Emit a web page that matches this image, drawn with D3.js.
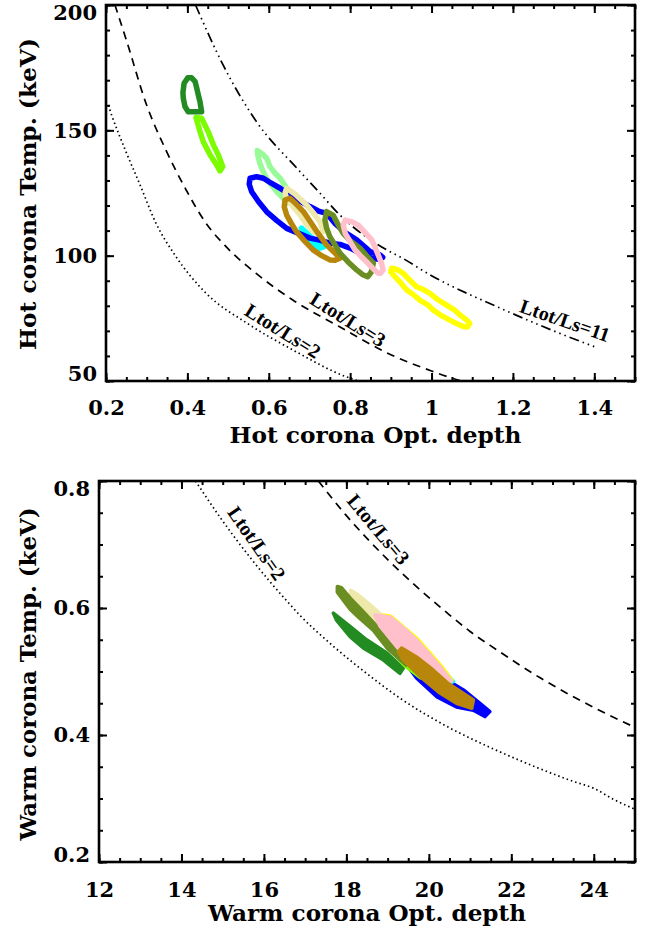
<!DOCTYPE html>
<html><head><meta charset="utf-8">
<script src="https://cdn.jsdelivr.net/npm/d3@7"></script>
<style>body{margin:0;background:#fff}svg{display:block}</style>
</head><body>
<script>
// ---------------- DATA ----------------
// Top panel: hot corona (optical depth, temperature keV)
const hotXTicks = [0.2,0.4,0.6,0.8,1.0,1.2,1.4];
const hotXTickLabels = ["0.2","0.4","0.6","0.8","1","1.2","1.4"];
const hotYTicks = [50,100,150,200];
const hotYTickLabels = ["50","100","150","200"];

const hotLs2 = [[0.2,161.5],[0.206,159.7],[0.214,156],[0.249,141.5],[0.282,128.9],[0.323,112.9],[0.372,99.6],[0.446,85],[0.547,73],[0.659,62.4],[0.79,51.7],[0.83,49.5]];
const hotLs3 = [[0.222,200],[0.25,186],[0.3,160],[0.347,142.2],[0.397,126.2],[0.446,112.9],[0.495,103.6],[0.569,92.9],[0.659,82.3],[0.773,71.7],[0.9,60.5],[1.0,54],[1.07,50.2],[1.1,49]];
const hotLs11 = [[0.42,200],[0.488,176],[0.57,153.4],[0.669,134.9],[0.726,124.9],[0.767,117.5],[0.89,102.3],[0.922,99.6],[1.0,92],[1.16,79.7],[1.3,70],[1.4,63.7]];

const hotForestGreen = [[0.401,171],[0.392,168.8],[0.389,165],[0.390,162.8],[0.394,159.5],[0.402,157.4],[0.42,157.4],[0.435,157.4],[0.431,161.4],[0.427,164],[0.423,166.8],[0.419,169.4],[0.410,171]];
const hotLawnGreen = [[0.421,155.1],[0.431,149.5],[0.439,145.5],[0.456,140.2],[0.472,136.2],[0.480,133.8],[0.487,135.5],[0.476,140.2],[0.464,144.2],[0.451,149.5],[0.435,154.8]];
const hotLightGreen = [[0.572,142],[0.585,140.5],[0.595,138.8],[0.603,135.5],[0.615,133],[0.628,130.9],[0.644,126.9],[0.655,123],[0.645,121],[0.632,123.5],[0.62,125.5],[0.605,128.5],[0.595,130.9],[0.585,134],[0.578,137],[0.573,140]];
const hotCyan = [[0.68,111],[0.70,108],[0.72,105],[0.735,103.5],[0.725,103],[0.705,105],[0.69,108]];
const hotWheat = [[0.644,126.9],[0.665,124.5],[0.693,120.2],[0.71,117],[0.726,113.6],[0.734,109.6],[0.722,109],[0.709,109.6],[0.69,113],[0.677,116.2],[0.66,119.5],[0.644,122.9],[0.64,125]];
const hotBlue = [[0.554,130.9],[0.570,131.5],[0.587,130.9],[0.605,129],[0.628,126.9],[0.652,124.2],[0.680,121.5],[0.701,119.6],[0.722,117.8],[0.742,116.9],[0.762,113],[0.790,109],[0.816,106.3],[0.849,101.6],[0.873,100.3],[0.880,99.3],[0.870,98.6],[0.853,99],[0.825,101],[0.800,103],[0.775,104.5],[0.750,105],[0.725,106.2],[0.701,107],[0.672,109],[0.644,110.9],[0.620,114],[0.595,117.5],[0.575,121.5],[0.558,125.5],[0.552,128.5]];
const hotGoldenrod = [[0.640,122.2],[0.652,122.9],[0.668,120.5],[0.685,117.6],[0.70,114],[0.718,109.6],[0.742,104.3],[0.76,101.5],[0.775,99],[0.763,98.2],[0.750,98.3],[0.73,100],[0.709,102.3],[0.69,105.5],[0.668,109.6],[0.655,113],[0.644,116.2],[0.638,119.5]];
const hotOlive = [[0.742,117.6],[0.758,116.2],[0.77,112.5],[0.783,108.9],[0.80,106],[0.824,103],[0.84,100],[0.857,97],[0.852,93.5],[0.843,91.6],[0.83,92.5],[0.816,94.3],[0.795,97.5],[0.775,101],[0.762,104.5],[0.750,107.6],[0.742,111],[0.738,114.2]];
const hotPink = [[0.788,114.2],[0.805,113.5],[0.820,112.2],[0.838,109],[0.853,106.3],[0.862,103],[0.869,100.3],[0.877,97],[0.881,94.3],[0.875,93],[0.869,93],[0.855,95],[0.840,97.6],[0.825,100],[0.812,102.3],[0.80,105.5],[0.788,108.9],[0.783,112.2]];
const hotYellow = [[0.902,95],[0.915,94.5],[0.930,93],[0.945,90.5],[0.963,87.6],[0.98,86.5],[0.996,85],[1.015,82.5],[1.037,80.3],[1.055,78.5],[1.070,76.3],[1.085,74.5],[1.094,73],[1.088,71.5],[1.078,71.7],[1.06,73],[1.037,75],[1.02,76.5],[1.004,78.3],[0.99,80.5],[0.971,82.3],[0.955,84.5],[0.939,86.3],[0.925,89],[0.910,91.6],[0.9,93.5]];

// Bottom panel: warm corona
const warmXTicks = [12,14,16,18,20,22,24];
const warmXTickLabels = ["12","14","16","18","20","22","24"];
const warmYTicks = [0.2,0.4,0.6,0.8];
const warmYTickLabels = ["0.2","0.4","0.6","0.8"];

const warmLs2 = [[14.34,0.8],[15,0.737],[15.66,0.68],[16.57,0.61],[16.88,0.588],[17.68,0.54],[18.49,0.497],[19.3,0.458],[20.51,0.411],[21.5,0.380],[22.5,0.352],[23.5,0.327],[24,0.316],[24.5,0.298],[25,0.283]];
const warmLs3 = [[17.32,0.8],[17.98,0.747],[18.99,0.677],[20.43,0.593],[21.0,0.563],[21.65,0.534],[22.7,0.49],[24.04,0.442],[25,0.412]];

const warmForestGreen = [[17.683,0.592],[18.088,0.571],[18.49,0.550],[18.98,0.529],[19.38,0.505],[19.30,0.497],[18.90,0.518],[18.41,0.537],[18.09,0.555],[17.76,0.581]];
const warmBlue = [[19.4,0.535],[19.9,0.51],[20.51,0.484],[20.84,0.471],[21.24,0.450],[21.48,0.437],[21.36,0.429],[21.08,0.439],[20.67,0.444],[20.2,0.46],[19.7,0.49],[19.35,0.52]];
const warmLawnGreen = [[19.25,0.535],[19.5,0.525],[19.9,0.50],[19.8,0.49],[19.4,0.51],[19.2,0.525]];
const warmCyan = [[18.75,0.588],[19.1,0.584],[19.75,0.548],[20.3,0.507],[20.6,0.484],[20.4,0.48],[19.6,0.515],[19.2,0.54],[18.85,0.57]];
const warmYellow = [[18.78,0.590],[19.08,0.587],[19.73,0.551],[20.3,0.509],[20.56,0.486],[20.35,0.481],[19.62,0.513],[19.22,0.539],[18.82,0.571]];
const warmWheat = [[18.1,0.628],[18.3,0.62],[18.7,0.598],[19.0,0.58],[19.3,0.555],[19.5,0.53],[19.2,0.54],[18.9,0.56],[18.6,0.58],[18.3,0.60],[18.1,0.615]];
const warmOlive = [[17.78,0.634],[17.88,0.632],[18.1,0.615],[18.37,0.597],[18.8,0.567],[19.3,0.535],[19.55,0.52],[19.45,0.51],[19.0,0.536],[18.65,0.565],[18.3,0.585],[18.09,0.598],[17.78,0.625]];
const warmPink = [[18.69,0.589],[19.06,0.586],[19.4,0.568],[19.70,0.550],[20.0,0.528],[20.27,0.508],[20.55,0.484],[20.35,0.481],[20.0,0.497],[19.62,0.513],[19.22,0.539],[18.82,0.571]];
const warmGoldenrod = [[19.34,0.537],[19.70,0.523],[20.11,0.502],[20.47,0.481],[21.08,0.455],[21.04,0.442],[20.67,0.450],[20.27,0.466],[19.79,0.492],[19.38,0.518],[19.26,0.531]];

// label anchors (data coords) and texts
const hotLabels = [["Ltot/Ls=2",0.635,70.0,32],["Ltot/Ls=3",0.795,74.6,32],["Ltot/Ls=11",1.328,74.2,19]];
const warmLabels = [["Ltot/Ls=2",15.83,0.702,55],["Ltot/Ls=3",18.78,0.724,50]];

// ---------------- DRAW ----------------
const W = 653, H = 936;
const svg = d3.select("body").append("svg").attr("width", W).attr("height", H);
svg.append("rect").attr("width", W).attr("height", H).attr("fill", "#fff");

const TICKFONT = "'DejaVu Serif', serif";

function panel(o) {
  const x = d3.scaleLinear().domain(o.xDomain).range([o.left, o.right]);
  const y = d3.scaleLinear().domain(o.yDomain).range([o.bottom, o.top]);
  const g = svg.append("g");
  const cid = "clip" + o.id;
  svg.append("clipPath").attr("id", cid).append("rect")
    .attr("x", o.left).attr("y", o.top).attr("width", o.right - o.left).attr("height", o.bottom - o.top);
  const plot = g.append("g").attr("clip-path", `url(#${cid})`);

  const line = d3.line().x(d => x(d[0])).y(d => y(d[1])).curve(d3.curveMonotoneX);
  o.curves.forEach(c => {
    plot.append("path").attr("d", line(c.data)).attr("fill", "none")
      .attr("stroke", "#000").attr("stroke-width", 1.7).attr("stroke-dasharray", c.dash);
  });
  const closed = d3.line().x(d => x(d[0])).y(d => y(d[1])).curve(d3.curveLinearClosed);
  o.contours.forEach(c => {
    plot.append("path").attr("d", closed(c.data))
      .attr("fill", o.filled ? c.color : "none")
      .attr("stroke", c.color).attr("stroke-width", o.sw)
      .attr("stroke-linejoin", "round");
  });

  // labels
  o.labels.forEach(l => {
    g.append("text").attr("transform", `translate(${x(l[1])},${y(l[2])}) rotate(${l[3]})`)
      .attr("text-anchor", "middle").attr("dominant-baseline", "central")
      .attr("font-family", "'Liberation Serif', serif").attr("font-weight", "bold")
      .attr("font-size", 20).attr("fill", "#000").text(l[0]);
  });

  // axes
  const styleAxis = sel => {
    sel.select(".domain").remove();
    sel.selectAll("line").attr("stroke", "#000").attr("stroke-width", 2);
    sel.selectAll("text").attr("font-family", TICKFONT).attr("font-weight", "bold")
      .attr("font-size", 21).attr("fill", "#000");
  };
  const xMinor = d3.range(o.xDomain[0], o.xDomain[1] + 1e-9, o.xMinorStep);
  const yMinor = d3.range(o.yDomain[0], o.yDomain[1] + 1e-9, o.yMinorStep);

  g.append("g").attr("transform", `translate(0,${o.bottom})`)
    .call(d3.axisBottom(x).tickValues(xMinor).tickSize(-4).tickSizeOuter(0).tickFormat("")).call(styleAxis);
  g.append("g").attr("transform", `translate(0,${o.top})`)
    .call(d3.axisTop(x).tickValues(xMinor).tickSize(-4).tickSizeOuter(0).tickFormat("")).call(styleAxis);
  g.append("g").attr("transform", `translate(${o.left},0)`)
    .call(d3.axisLeft(y).tickValues(yMinor).tickSize(-4).tickSizeOuter(0).tickFormat("")).call(styleAxis);
  g.append("g").attr("transform", `translate(${o.right},0)`)
    .call(d3.axisRight(y).tickValues(yMinor).tickSize(-4).tickSizeOuter(0).tickFormat("")).call(styleAxis);

  g.append("g").attr("transform", `translate(0,${o.bottom})`)
    .call(d3.axisBottom(x).tickValues(o.xTicks).tickSize(-8).tickSizeOuter(0).tickPadding(o.xPad)
      .tickFormat((d, i) => o.xLabels[i])).call(styleAxis);
  g.append("g").attr("transform", `translate(0,${o.top})`)
    .call(d3.axisTop(x).tickValues(o.xTicks).tickSize(-8).tickSizeOuter(0).tickFormat("")).call(styleAxis);
  const ly = g.append("g").attr("transform", `translate(${o.left},0)`)
    .call(d3.axisLeft(y).tickValues(o.yTicks).tickSize(-8).tickSizeOuter(0).tickPadding(9)
      .tickFormat((d, i) => o.yLabels[i])).call(styleAxis);
  g.append("g").attr("transform", `translate(${o.right},0)`)
    .call(d3.axisRight(y).tickValues(o.yTicks).tickSize(-8).tickSizeOuter(0).tickFormat("")).call(styleAxis);
  // IDL keeps the end labels inside the axis span
  const yt = ly.selectAll(".tick text");
  yt.filter((d, i) => i === 0).attr("y", -7);
  yt.filter((d, i, n) => i === n.length - 1).attr("y", 8);

  // frame
  g.append("rect").attr("x", o.left).attr("y", o.top).attr("width", o.right - o.left)
    .attr("height", o.bottom - o.top).attr("fill", "none").attr("stroke", "#000").attr("stroke-width", 2.6);

  // titles
  g.append("text").attr("x", (o.left + o.right) / 2 + o.xTitleDx).attr("y", o.xTitleY)
    .attr("text-anchor", "middle").attr("font-family", TICKFONT).attr("font-weight", "bold")
    .attr("font-size", 22).attr("textLength", o.xTitleLen).attr("lengthAdjust", "spacingAndGlyphs")
    .text(o.xTitle);
  g.append("text").attr("transform", `translate(36,${o.yTitleY}) rotate(-90)`)
    .attr("text-anchor", "middle").attr("font-family", TICKFONT).attr("font-weight", "bold")
    .attr("font-size", 22).attr("textLength", o.yTitleLen).attr("lengthAdjust", "spacingAndGlyphs")
    .text(o.yTitle);
}

panel({
  id: "hot", left: 106, right: 635, top: 5, bottom: 381,
  xDomain: [0.2, 1.5], yDomain: [50, 200], xMinorStep: 0.05, yMinorStep: 10,
  xTicks: hotXTicks, xLabels: hotXTickLabels, yTicks: hotYTicks, yLabels: hotYTickLabels,
  xPad: 19, sw: 5.5, filled: false,
  curves: [{data: hotLs2, dash: "1.5,3"}, {data: hotLs3, dash: "8,6"}, {data: hotLs11, dash: "10,4,1.5,4,1.5,4,1.5,4"}],
  contours: [
    {data: hotLawnGreen, color: "#7CFC00"}, {data: hotForestGreen, color: "#228B22"},
    {data: hotLightGreen, color: "#98FB98"}, {data: hotCyan, color: "#00FFFF"},
    {data: hotBlue, color: "#0000FF"}, {data: hotWheat, color: "#EEE8AA"},
    {data: hotGoldenrod, color: "#B8860B"}, {data: hotOlive, color: "#6B8E23"},
    {data: hotPink, color: "#FFC0CB"}, {data: hotYellow, color: "#FFFF00"}],
  labels: hotLabels,
  xTitle: "Hot corona Opt. depth", xTitleY: 443, xTitleLen: 292, xTitleDx: 5,
  yTitle: "Hot corona Temp. (keV)", yTitleY: 194, yTitleLen: 312
});

panel({
  id: "warm", left: 99, right: 635, top: 481, bottom: 862,
  xDomain: [12, 25], yDomain: [0.2, 0.8], xMinorStep: 0.5, yMinorStep: 0.05,
  xTicks: warmXTicks, xLabels: warmXTickLabels, yTicks: warmYTicks, yLabels: warmYTickLabels,
  xPad: 20, sw: 3.5, filled: true,
  curves: [{data: warmLs2, dash: "1.5,3"}, {data: warmLs3, dash: "8,6"}],
  contours: [
    {data: warmForestGreen, color: "#228B22"}, {data: warmBlue, color: "#0000FF"},
    {data: warmLawnGreen, color: "#7CFC00"}, {data: warmCyan, color: "#00FFFF"},
    {data: warmYellow, color: "#FFFF00"}, {data: warmWheat, color: "#EEE8AA"},
    {data: warmOlive, color: "#6B8E23"}, {data: warmPink, color: "#FFC0CB"},
    {data: warmGoldenrod, color: "#B8860B"}],
  labels: warmLabels,
  xTitle: "Warm corona Opt. depth", xTitleY: 921, xTitleLen: 318, xTitleDx: 0,
  yTitle: "Warm corona Temp. (keV)", yTitleY: 674, yTitleLen: 333
});
</script>
</body></html>
